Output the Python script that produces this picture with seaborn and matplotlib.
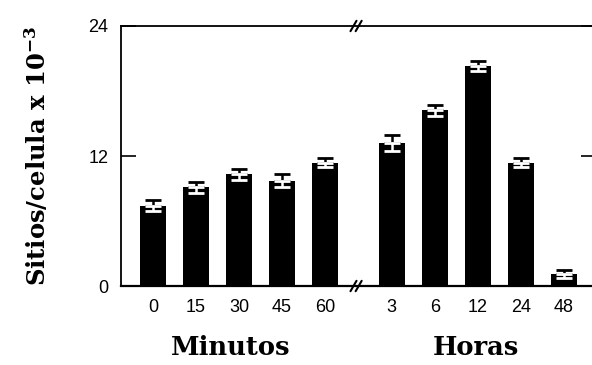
import numpy as np
import pandas as pd
import matplotlib
matplotlib.use("Agg")
import matplotlib.pyplot as plt
import matplotlib.transforms as mtransforms
import seaborn as sns

# Binding sites per cell (x 10^-3) over time
minutes_labels = ["0", "15", "30", "45", "60"]
minutes_vals = [7.4, 9.1, 10.3, 9.7, 11.4]
minutes_err = [0.5, 0.5, 0.5, 0.6, 0.4]

hours_labels = ["3", "6", "12", "24", "48"]
hours_vals = [13.2, 16.2, 20.3, 11.4, 1.1]
hours_err = [0.7, 0.5, 0.5, 0.4, 0.4]

y_ticks = [0, 12, 24]

sns.set_theme(style="white")
plt.rcParams["font.family"] = ["Liberation Sans", "DejaVu Sans"]
plt.rcParams["mathtext.fontset"] = "dejavuserif"

# x positions: two groups separated by an axis break
hours_offset = 5.55
pos = np.concatenate([np.arange(len(minutes_vals)),
                      hours_offset + np.arange(len(hours_vals))])
df = pd.DataFrame({
    "pos": pos,
    "value": minutes_vals + hours_vals,
    "err": minutes_err + hours_err,
    "label": minutes_labels + hours_labels,
})

fig = plt.figure(figsize=(5.92, 3.65), dpi=100)
ax = fig.add_axes([0.2044, 0.2164, 0.7956, 0.7124])

sns.barplot(data=df, x="pos", y="value", native_scale=True, color="black",
            width=0.6, errorbar=None, linewidth=0, saturation=1, ax=ax)

# upper half of each error bar in black, lower half in white inside the bar
ax.errorbar(df["pos"], df["value"], yerr=[np.zeros(len(df)), df["err"]],
            fmt="none", ecolor="black", elinewidth=1.8, capsize=5.5,
            capthick=2.0, zorder=5)
ax.errorbar(df["pos"], df["value"], yerr=[df["err"], np.zeros(len(df))],
            fmt="none", ecolor="white", elinewidth=1.8, capsize=5.5,
            capthick=2.0, zorder=5)

ax.set_xlim(-0.74, 10.2)
ax.set_ylim(0, 24)
ax.set_yticks(y_ticks)
ax.set_yticklabels([str(t) for t in y_ticks], fontsize=13)
ax.set_xticks(df["pos"])
ax.set_xticklabels(df["label"], fontsize=13)
ax.set_xlabel("")

ax.tick_params(axis="y", which="both", direction="in", length=11, width=1.2,
               pad=9, left=True, right=True, labelright=False, colors="black")
ax.tick_params(axis="x", length=0, pad=9, colors="black")
for t in ax.yaxis.get_major_ticks():
    t.tick2line.set_markersize(8)

for side in ["left", "top", "bottom"]:
    ax.spines[side].set_visible(True)
    ax.spines[side].set_color("black")
    ax.spines[side].set_linewidth(1.3)
ax.spines["bottom"].set_linewidth(1.6)
ax.spines["right"].set_visible(False)

# axis-break marks on the top and bottom lines
brk = 4.72
trans = mtransforms.blended_transform_factory(ax.transData, ax.transAxes)
for yb in (0.0, 1.0):
    for dx in (-0.06, 0.06):
        ax.plot([brk + dx - 0.07, brk + dx + 0.07], [yb - 0.02, yb + 0.02],
                color="black", lw=1.5, transform=trans, clip_on=False, zorder=6)

ax.set_ylabel("Sitios/celula x 10$^{\\mathbf{-3}}$", fontsize=17.5,
              fontfamily="DejaVu Serif", fontweight="bold", color="black")
ax.yaxis.set_label_coords(-0.148, 0.5)

group_font = dict(fontsize=18.5, fontfamily="DejaVu Serif", fontweight="bold",
                  color="black", ha="center", va="center")
ax.text(1.8, -0.235, "Minutos", transform=trans, **group_font)
ax.text(7.5, -0.235, "Horas", transform=trans, **group_font)

fig.savefig("out.png", dpi=100, facecolor="white")
